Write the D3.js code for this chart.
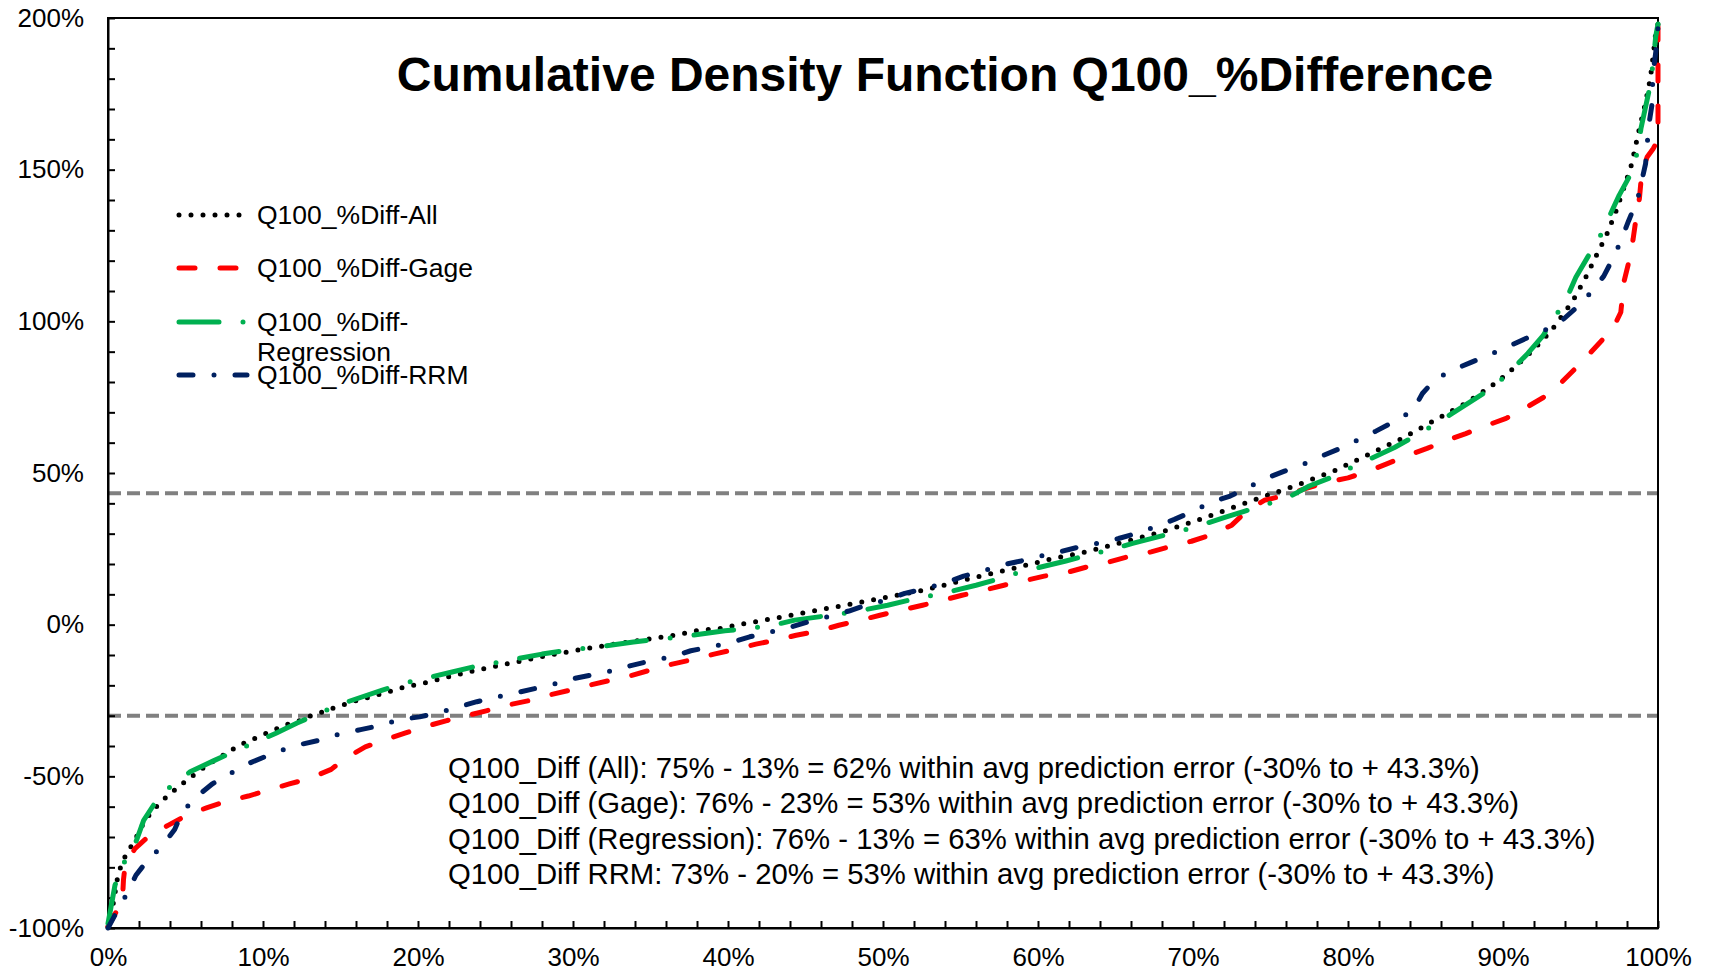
<!doctype html>
<html lang="en">
<head>
    <meta charset="utf-8"/>
    <title>Cumulative Density Function Q100_%Difference</title>
    <style>
        body { margin: 0; background: #fff; }
        svg { display: block; font-family: "Liberation Sans", Arial, sans-serif; }
        .axis path, .axis line { stroke: #000; stroke-width: 2; }
        .axis text { font-size: 26px; fill: #000; font-family: "Liberation Sans", Arial, sans-serif; }
        .series { fill: none; stroke-width: 5; stroke-linecap: round; stroke-linejoin: round; }
    </style>
    <script src="https://d3js.org/d3.v7.min.js"></script>
</head>
<body>
<svg width="1712" height="976"></svg>
<script>

    // [percent of sites, Q100 % difference]
    var allPts = [[0,-99.6],[0.34,-91.9],[0.6,-83.9],[0.82,-79.8],[1.14,-76],[1.57,-72.4],[1.96,-68.8],[2.3,-65.3],
        [2.77,-62],[3.3,-59],[3.9,-56.2],[4.5,-53.7],[5.14,-51],[5.8,-48.6],[6.4,-46.3],[7.1,-44.1],[7.8,-41.9],
        [8.5,-39.7],[9.2,-38.1],[9.95,-36.4],[10.7,-34.8],[11.4,-33.1],[12.2,-32],[12.9,-30.4],[14.5,-27.6],
        [16,-25.1],[17.5,-23],[19.05,-20.7],[20.6,-19],[22.1,-17],[23.7,-15.1],[25.3,-13.4],[26.9,-11.7],
        [28.45,-10.1],[29.3,-9.3],[31.2,-7.6],[33.2,-6],[34.8,-4.8],[36.3,-3.7],[38,-2],[39.55,-1.2],[41.1,0.4],
        [42.7,1.8],[44.2,3.2],[45.8,4.8],[47.4,6.3],[49,7.8],[50.55,9.4],[52.1,10.8],[53.7,12.7],[55.2,14.7],
        [56.8,16.6],[58.4,18.5],[60.7,21.5],[63.1,24],[65.4,27.1],[67.8,30.3],[70,33.9],[72.3,38.1],[74.5,42.1],
        [76.8,46.2],[79.1,50.7],[81.2,55.8],[83.4,61.2],[85.5,67.1],[87.7,73.3],[89.6,79.9],[90.8,85],[92,90.8],
        [93.1,96.8],[94.5,106.7],[95.3,114.1],[96,121.5],[96.7,128.7],[97.3,136.4],[97.8,144],[98.3,151.8],
        [98.8,163.6],[99.2,172.2],[99.5,179.9],[99.7,188],[99.85,195],[100,198]];

    var gagePts = [[0,-99.6],[0.56,-94.4],[0.95,-89],[1,-84],[1.1,-79.5],[1.74,-73.8],[2.7,-69.4],[3.9,-66.1],
        [5.1,-62.8],[6.4,-60.3],[7.7,-58.1],[9.05,-56.5],[10.3,-54.6],[11.7,-52.5],[13,-50.7],[14.4,-47.7],
        [15.3,-44.1],[16.6,-40.3],[17.8,-38.1],[19.2,-35.7],[20.4,-33.7],[21.8,-31.7],[23,-30.2],[24.4,-28.4],
        [25.8,-26.5],[27.1,-25.1],[28.45,-23.2],[29.8,-21.6],[31.1,-19.9],[32.45,-18.3],[33.8,-16.7],[35.1,-14.8],
        [36.4,-13],[37.8,-11.4],[39.1,-9.7],[40.4,-8.2],[41.8,-6.4],[43.1,-5.1],[44.4,-3.5],[45.9,-2],[47.15,-0.2],
        [48.55,1.5],[49.8,3.1],[51.2,4.8],[52.55,6.4],[53.9,8.1],[55.1,9.7],[56.55,11.4],[57.8,13],[59.3,14.7],
        [60.4,16],[62,17.4],[63.2,19.1],[64.6,20.7],[65.8,22.4],[67.3,24],[68.5,25.7],[69.9,27.5],[71.1,29.5],
        [72.5,32.8],[73.4,37.2],[74.6,41],[76,42.7],[77.3,44.9],[78.5,46.8],[80,48.4],[81.2,50.4],[82.5,53],
        [83.7,55.5],[85.1,58.1],[86.3,60.6],[87.6,63],[88.8,65.4],[90.2,68],[91.4,71.3],[92.6,74.9],[93.6,79],
        [94.6,84.1],[95.5,88.9],[96.5,94.4],[97.3,99.8],[97.6,103],[97.8,113],[98.2,121.3],[98.4,127.3],
        [98.6,134.5],[98.8,140.5],[98.95,148.8],[99.3,154.2],[99.7,157],[100,160],[100,197]];

    var regressionPts = [[0,-98.5],[0.45,-85.9],[1.03,-78.5],[1.8,-71.6],[2.3,-64.5],[3,-59],[4.1,-52.9],
        [5.3,-48.5],[6.8,-44.9],[8.1,-41.9],[10.8,-35.9],[12.2,-32.4],[13.6,-29.3],[15,-26.2],[17.7,-21.6],
        [19.2,-19.2],[20.7,-17.4],[22.2,-15.6],[24,-13.4],[25,-12.6],[26.5,-11.1],[28,-9.7],[29.45,-8.6],
        [32.4,-6.8],[33.9,-5.7],[35.4,-4.8],[37,-4],[39.8,-2],[41.3,-1.3],[42.9,-0.2],[44.3,1.5],[47.2,3.5],
        [48.7,4.8],[50.3,6.4],[51.7,8.1],[54.5,11.1],[56,13],[57.5,15.1],[58.9,17.4],[61.8,21],[63.2,22.9],
        [64.8,24.9],[66.1,26.8],[69,30.6],[70.5,32.8],[72,35.3],[73.4,37.5],[76.2,42.1],[77.5,45.7],[79,48.7],
        [80.3,52],[83,58.4],[84.3,62.1],[85.7,66.3],[86.9,70.2],[89.4,78.4],[90.5,83.7],[91.6,89.4],[92.6,95.4],
        [94.1,107.5],[94.7,114.5],[95.5,121.5],[96.3,128.4],[97.5,141.6],[98.2,148.2],[98.7,156.2],[98.9,163.6],
        [99.5,177.9],[99.7,185.8],[99.85,193.8],[100,198]];

    var rrmPts = [[0,-100],[0.56,-94.7],[1.2,-88.9],[1.8,-82.6],[2.5,-78],[3.5,-72.9],[4.3,-67.5],[4.8,-61.7],
        [5.7,-56.8],[6.7,-52.6],[7.7,-49.6],[8.9,-46.1],[10.1,-43.6],[11.2,-41.4],[12.5,-39.4],[13.9,-37.8],
        [15,-35.9],[16.3,-34.6],[17.7,-33.1],[18.8,-31.3],[20.1,-30.4],[21.3,-29.1],[22.5,-27.3],[23.8,-25.4],
        [25.1,-23.8],[26.3,-22.5],[27.6,-21],[28.9,-19.4],[30.1,-17.7],[31.4,-16.4],[32.7,-15],[33.8,-13.4],
        [35.2,-11.7],[36.5,-10.4],[37.6,-8.6],[38.9,-7.3],[40.3,-5.7],[41.4,-4],[42.7,-2.5],[44,-0.9],[45.15,0.9],
        [46.4,2.6],[47.8,4.5],[48.9,6.4],[50.2,8.1],[51.4,10.3],[52.7,11.9],[53.9,13.6],[55.2,16],[56.3,17.4],
        [57.5,19.5],[58.9,21],[60,22.4],[61.4,24],[62.7,25.7],[63.8,26.8],[65.2,28.4],[66.5,30.3],[67.5,32.2],
        [68.8,34.7],[70,37.4],[71.1,40.2],[72.4,42.4],[73.6,45.4],[74.7,48.2],[75.9,50.6],[77.2,53.1],[78.3,55.6],
        [79.5,58.1],[80.7,61.1],[81.8,63.8],[83,67],[84.2,70.7],[84.8,76.2],[85.6,80.8],[86.8,84],[87.9,86.4],
        [89.1,88.9],[90.3,91.6],[91.5,94.4],[92.7,97.1],[93.7,99.8],[94.8,104.8],[95.7,109.7],[96.5,114.9],
        [97.2,121.8],[97.6,126.5],[98.1,133.1],[98.7,140.5],[98.9,145.1],[99.2,152],[99.3,158.1],[99.4,164.6],
        [99.6,171],[99.65,178],[99.75,184.5],[99.9,190.5],[100,197]];

    var seriesNames = ["Q100_%Diff-All", "Q100_%Diff-Gage", "Q100_%Diff-Regression", "Q100_%Diff-RRM"];
    var seriesColors = ["#000000", "#ff0000", "#00b050", "#002060"];
    var seriesDashes = ["0 12", "16 25", "40 24 0 24", "14 21 0 21"];

    var errorBand = [-30, 43.3];   // avg prediction error limits (%)

    var notes = [
        "Q100_Diff (All): 75% - 13% = 62% within avg prediction error (-30% to + 43.3%)",
        "Q100_Diff (Gage): 76% - 23% = 53% within avg prediction error (-30% to + 43.3%)",
        "Q100_Diff (Regression): 76% - 13% = 63% within avg prediction error (-30% to + 43.3%)",
        "Q100_Diff RRM: 73% - 20% = 53% within avg prediction error (-30% to + 43.3%)"
    ];

    var svg = d3.select("svg"),
        margin = {top: 18, right: 54, bottom: 48, left: 108},
        width = +svg.attr("width") - margin.left - margin.right,
        height = +svg.attr("height") - margin.top - margin.bottom;

    var x = d3.scaleLinear().domain([0, 100]).range([0, width]),
        y = d3.scaleLinear().domain([-100, 200]).range([height, 0]);

    var g = svg.append("g")
        .attr("transform", "translate(" + margin.left + "," + margin.top + ")");

    // dashed grey band limits
    g.selectAll(".band")
        .data(errorBand)
        .enter().append("line")
        .attr("class", "band")
        .attr("x1", 0)
        .attr("x2", width)
        .attr("y1", function(d) { return y(d); })
        .attr("y2", function(d) { return y(d); })
        .attr("stroke", "#808080")
        .attr("stroke-width", 4)
        .attr("stroke-dasharray", "13 6");

    g.append("rect")
        .attr("width", width)
        .attr("height", height)
        .attr("fill", "none")
        .attr("stroke", "#000")
        .attr("stroke-width", 2);

    g.append("g")
        .attr("class", "axis")
        .attr("transform", "translate(0," + height + ")")
        .call(d3.axisBottom(x)
            .tickValues(d3.range(0, 101, 2))
            .tickSizeInner(-7)
            .tickSizeOuter(0)
            .tickPadding(20)
            .tickFormat(function(d) { return d % 10 === 0 ? d + "%" : ""; }));

    g.append("g")
        .attr("class", "axis")
        .call(d3.axisLeft(y)
            .tickValues(d3.range(-100, 201, 10))
            .tickSizeInner(-7)
            .tickSizeOuter(0)
            .tickPadding(24)
            .tickFormat(function(d) { return d % 50 === 0 ? d + "%" : ""; }));

    var line = d3.line()
        .x(function(d) { return x(d[0]); })
        .y(function(d) { return y(d[1]); });

    var seriesData = [allPts, gagePts, regressionPts, rrmPts];

    g.selectAll(".series")
        .data(seriesData)
        .enter().append("path")
        .attr("class", "series")
        .attr("d", line)
        .attr("stroke", function(d, i) { return seriesColors[i]; })
        .attr("stroke-dasharray", function(d, i) { return seriesDashes[i]; });

    // title
    svg.append("text")
        .attr("x", 945)
        .attr("y", 91)
        .attr("text-anchor", "middle")
        .attr("font-size", "48px")
        .attr("font-weight", "bold")
        .text("Cumulative Density Function Q100_%Difference");

    // legend
    var legendRows = [215, 268, 322, 375];
    var legend = svg.append("g").attr("class", "legend");

    legend.selectAll(".key")
        .data(seriesNames)
        .enter().append("line")
        .attr("class", "series")
        .attr("x1", 179)
        .attr("x2", 247)
        .attr("y1", function(d, i) { return legendRows[i]; })
        .attr("y2", function(d, i) { return legendRows[i]; })
        .attr("stroke", function(d, i) { return seriesColors[i]; })
        .attr("stroke-dasharray", function(d, i) { return seriesDashes[i]; });

    legend.selectAll(".label")
        .data(seriesNames)
        .enter().append("text")
        .attr("class", "label")
        .attr("x", 257)
        .attr("y", function(d, i) { return legendRows[i] + 9; })
        .attr("font-size", "26.5px")
        .each(function(d) {
            // long name wraps after the hyphen, like the original
            var parts = d.length > 16 ? ["Q100_%Diff-", d.slice(11)] : [d];
            d3.select(this).selectAll("tspan")
                .data(parts)
                .enter().append("tspan")
                .attr("x", 257)
                .attr("dy", function(p, j) { return j === 0 ? 0 : 30; })
                .text(function(p) { return p; });
        });

    // summary notes
    svg.append("g")
        .selectAll("text")
        .data(notes)
        .enter().append("text")
        .attr("x", 448)
        .attr("y", function(d, i) { return 778 + i * 35.3; })
        .attr("font-size", "29.3px")
        .text(function(d) { return d; });

</script>
</body>
</html>
